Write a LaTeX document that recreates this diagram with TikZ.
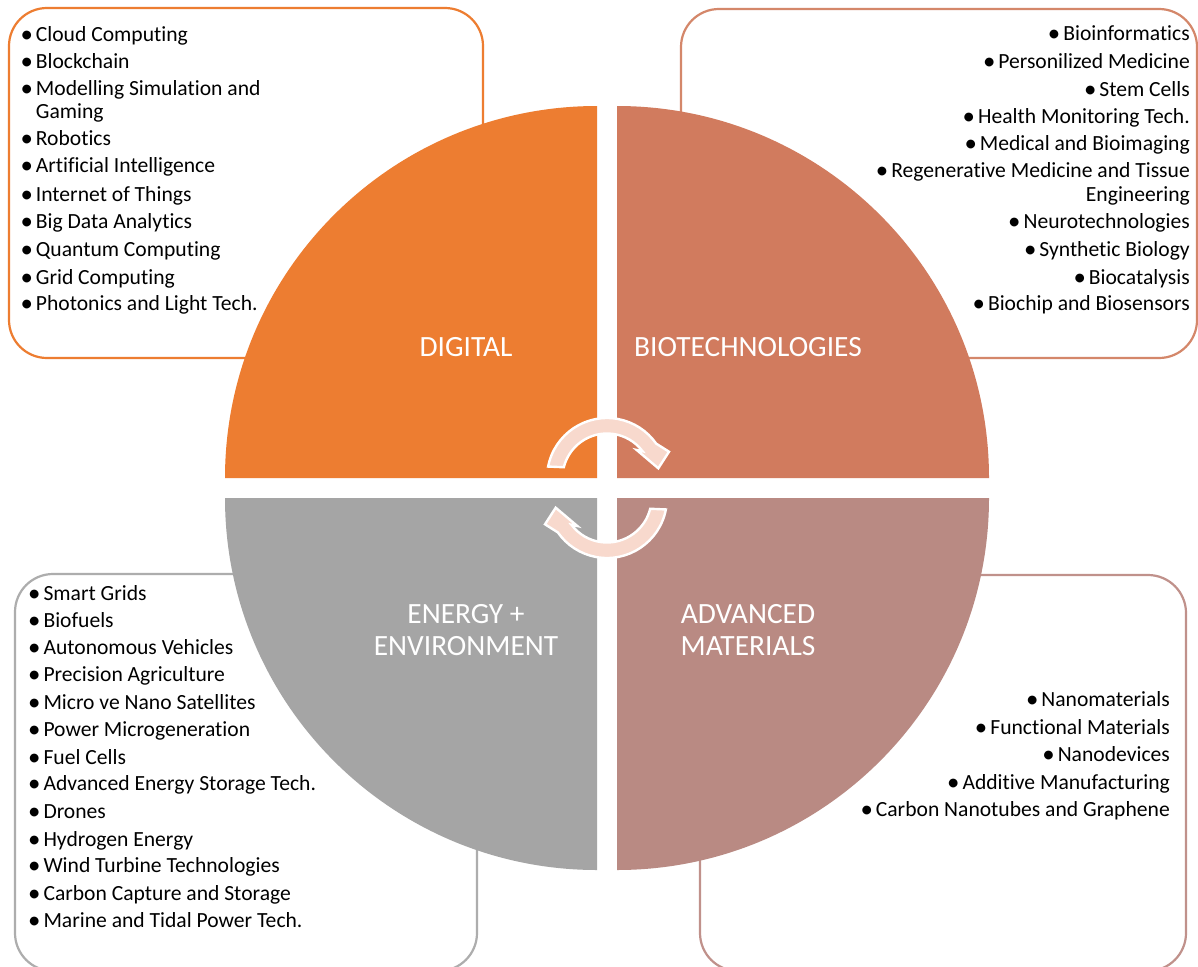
\documentclass[tikz,border=0pt]{standalone}
\usepackage{fontspec}
\setmainfont{Carlito}[Ligatures=NoCommon]
\definecolor{cdig}{HTML}{ED7D31}
\definecolor{cbio}{HTML}{D17B5E}
\definecolor{cene}{HTML}{A5A5A5}
\definecolor{cmat}{HTML}{B98A83}
\definecolor{bdig}{HTML}{ED7D31}
\definecolor{bbio}{HTML}{D4876A}
\definecolor{bene}{HTML}{ADADAD}
\definecolor{bmat}{HTML}{C0918B}
\definecolor{carr}{HTML}{F8D9CD}
\newcommand{\bul}{\llap{\smash{\raisebox{-1.1pt}{\scalebox{1.15}{•}}}\hspace{3pt}}}
\tikzset{
  itm/.style={inner sep=0pt, font=\fontsize{21.6}{25}\selectfont, text=black},
  lbl/.style={inner sep=0pt, font=\fontsize{29.4}{32}\selectfont, text=white},
  listbox/.style={rounded corners=38pt, line width=2.2pt, fill=white},
  cyc/.style={fill=carr, draw=white, line width=2.4pt, line join=miter}
}
\begin{document}
\begin{tikzpicture}[x=1pt,y=-1pt]
\useasboundingbox (0,0) rectangle (1198,966);
\clip (0,0) rectangle (1198,966);
\fill[white] (0,0) rectangle (1198,966);
% list boxes
\draw[listbox, draw=bdig] (9,8) rectangle (483,358);
\draw[listbox, draw=bbio] (681,9) rectangle (1197,358);
\draw[listbox, draw=bene] (15,574) rectangle (477,971);
\draw[listbox, draw=bmat] (700,575) rectangle (1186,971);
% quadrants
\begin{scope}[shift={(607,488)}, yscale=-1]
  \fill[cdig] (-10,10) -- ++(-372,0) arc[start angle=180, end angle=90, radius=372] -- cycle;
  \fill[cbio] (10,10) -- ++(0,372) arc[start angle=90, end angle=0, radius=372] -- cycle;
  \fill[cene] (-10,-10) -- ++(-372,0) arc[start angle=180, end angle=270, radius=372] -- cycle;
  \fill[cmat] (10,-10) -- ++(372,0) arc[start angle=0, end angle=-90, radius=372] -- cycle;
\end{scope}
% circular arrows
\begin{scope}[shift={(607,478)}, yscale=-1]
  \path[cyc] (169:60) arc[start angle=169, end angle=35, radius=60] -- (62,26.3) -- (51.3,9.7) -- (29.7,28) -- (37:44.5) arc[start angle=37, end angle=166, radius=44.5] -- cycle;
\end{scope}
\begin{scope}[shift={(607,498)}, yscale=-1, rotate=180]
  \path[cyc] (169:60) arc[start angle=169, end angle=35, radius=60] -- (62,26.3) -- (51.3,9.7) -- (29.7,28) -- (37:44.5) arc[start angle=37, end angle=166, radius=44.5] -- cycle;
\end{scope}
% quadrant labels
\node[lbl, anchor=base] (ldig) at (466,356) {DIGITAL};
\node[lbl, anchor=base] (lbio) at (748,356) {BIOTECHNOLOGIES};
\node[lbl, anchor=base] (lene1) at (466,623) {ENERGY +};
\node[lbl, anchor=base] (lene2) at (466,655) {ENVIRONMENT};
\node[lbl, anchor=base] (lmat1) at (748,623) {ADVANCED};
\node[lbl, anchor=base] (lmat2) at (748,655) {MATERIALS};
% digital list
\foreach \y/\b/\t [count=\i] in {41.7/\bul/Cloud Computing, 68.3/\bul/Blockchain, 95/\bul/Modelling Simulation and, 118.5/\relax/Gaming, 145.7/\bul/Robotics, 172.7/\bul/Artificial Intelligence, 201/\bul/Internet of Things, 228.3/\bul/Big Data Analytics, 256.3/\bul/Quantum Computing, 284/\bul/Grid Computing, 310.7/\bul/Photonics and Light Tech.}
  \node[itm, anchor=base west] (d\i) at (35.7,\y) {\b\t};
% biotech list
\foreach \y/\b/\t [count=\i] in {40.7/\bul/Bioinformatics, 68.3/\bul/Personilized Medicine, 96/\bul/Stem Cells, 123.3/\bul/Health Monitoring Tech., 150.7/\bul/Medical and Bioimaging, 177.3/\bul/Regenerative Medicine and Tissue, 201.7/\relax/Engineering, 228.7/\bul/Neurotechnologies, 256/\bul/Synthetic Biology, 284/\bul/Biocatalysis, 310.7/\bul/Biochip and Biosensors}
  \node[itm, anchor=base east] (b\i) at (1190,\y) {\b\t};
% energy list
\foreach \y/\t [count=\i] in {600/Smart Grids, 627.3/Biofuels, 654/Autonomous Vehicles, 681.7/Precision Agriculture, 709/Micro ve Nano Satellites, 736.7/Power Microgeneration, 764/Fuel Cells, 790.7/Advanced Energy Storage Tech., 818.3/Drones, 846/Hydrogen Energy, 872.7/Wind Turbine Technologies, 900/Carbon Capture and Storage, 927.3/Marine and Tidal Power Tech.}
  \node[itm, anchor=base west] (e\i) at (43.3,\y) {\bul\t};
% materials list
\foreach \y/\t [count=\i] in {706.7/Nanomaterials, 734/Functional Materials, 761/Nanodevices, 789/Additive Manufacturing, 816/Carbon Nanotubes and Graphene}
  \node[itm, anchor=base east] (m\i) at (1170,\y) {\bul\t};
\end{tikzpicture}
\end{document}
